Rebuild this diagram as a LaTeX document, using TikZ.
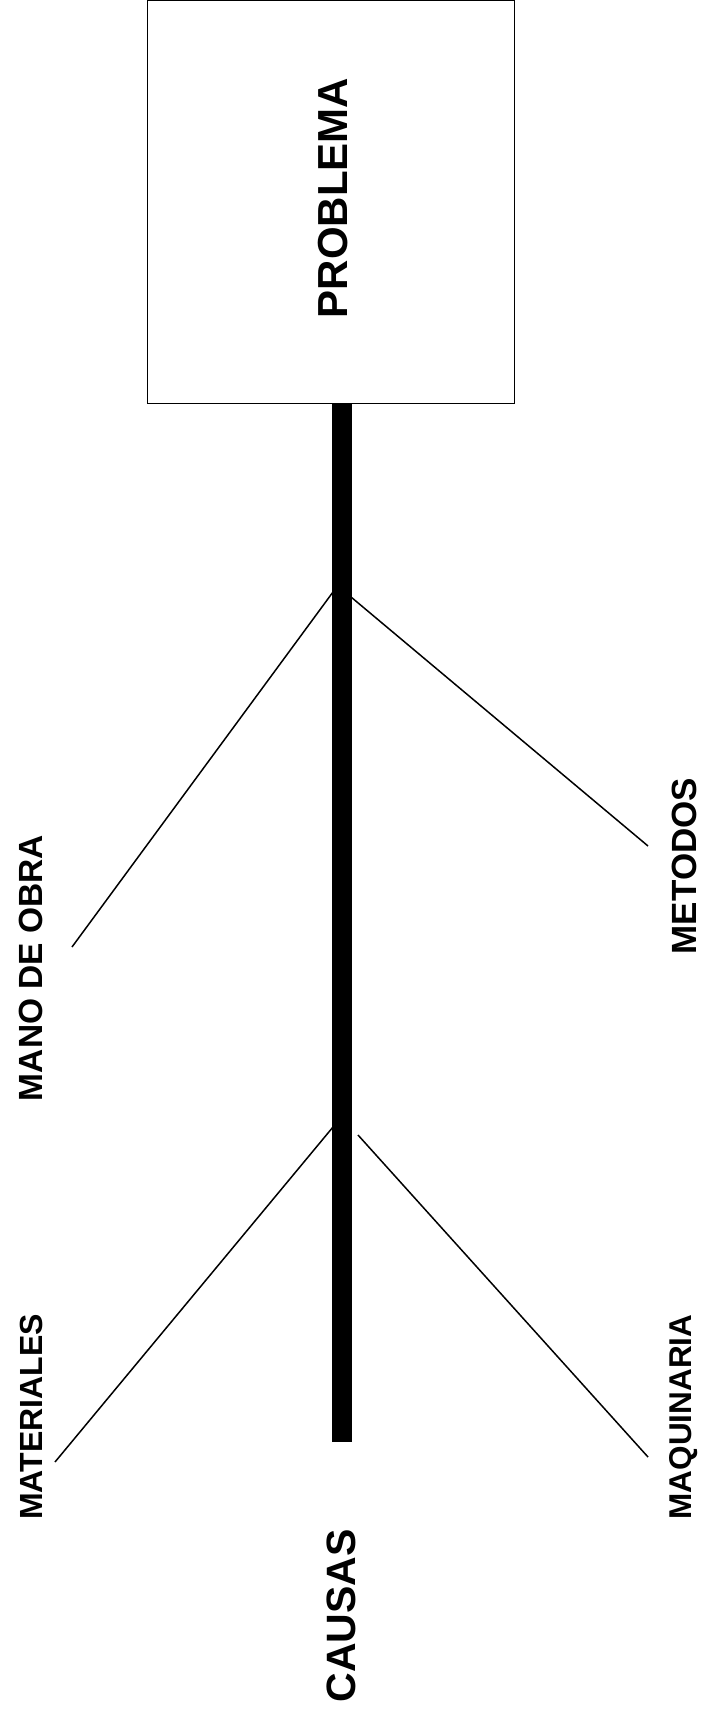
\documentclass[tikz,border=0pt]{standalone}
\usepackage{fontspec}
\setmainfont{Liberation Sans}
\usepackage{tikz}
\usetikzlibrary{positioning}
\tikzset{
  causa/.style={font=\bfseries\fontsize{#1}{#1}\selectfont, rotate=90, inner sep=0pt},
  causa/.default=31,
  rama/.style={line width=1.5pt},
  espina/.style={line width=20pt},
}

\begin{document}
\begin{tikzpicture}[x=1pt, y=-1pt]
\useasboundingbox (0,0) rectangle (707,1712);
\node[draw, line width=1.6pt, minimum width=367pt, minimum height=403pt, inner sep=0pt] (prob) at (331,202) {};
\node[causa=42] (probtxt) at (333,198) {PROBLEMA};
\coordinate (cola) at (342,404);
\coordinate (fin) at (342,1442);
\draw[espina] (cola) -- (fin);
\coordinate (p1) at (333,592);
\coordinate (p2) at (351,597);
\coordinate (p3) at (333,1127);
\coordinate (p4) at (358,1135);
\coordinate (e1) at (72,947);
\coordinate (e2) at (648,846);
\coordinate (e3) at (55,1462);
\coordinate (e4) at (648,1457);
\draw[rama] (p1) -- (e1);
\draw[rama] (p2) -- (e2);
\draw[rama] (p3) -- (e3);
\draw[rama] (p4) -- (e4);
\node[causa=33.5] (mano) at (31,968) {MANO DE OBRA};
\node[causa=35] (metodos) at (684,866) {METODOS};
\node[causa=32] (mat) at (31,1417) {MATERIALES};
\node[causa=31.5] (maq) at (684,1417) {MAQUINARIA};
\node[causa=41] (causas) at (341,1616) {CAUSAS};
\end{tikzpicture}
\end{document}
